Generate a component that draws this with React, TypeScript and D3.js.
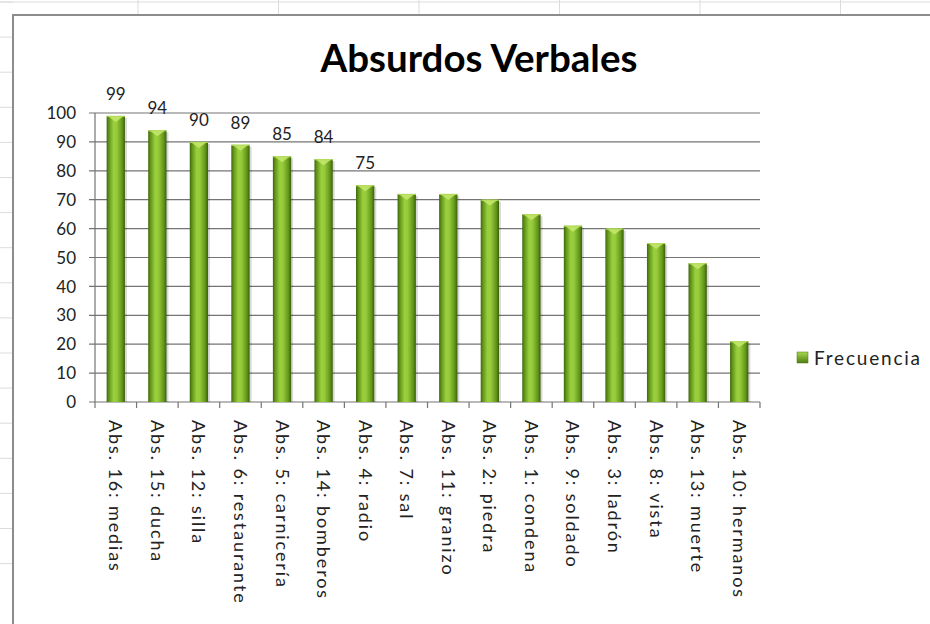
import React from "react";
import * as d3 from "d3";

const categories = [
  "Abs. 16: medias",
  "Abs. 15: ducha",
  "Abs. 12: silla",
  "Abs. 6: restaurante",
  "Abs. 5: carnicería",
  "Abs. 14: bomberos",
  "Abs. 4: radio",
  "Abs. 7: sal",
  "Abs. 11: granizo",
  "Abs. 2: piedra",
  "Abs. 1: condena",
  "Abs. 9: soldado",
  "Abs. 3: ladrón",
  "Abs. 8: vista",
  "Abs. 13: muerte",
  "Abs. 10: hermanos",
];
const values = [99, 94, 90, 89, 85, 84, 75, 72, 72, 70, 65, 61, 60, 55, 48, 21];
const labelled = [true, true, true, true, true, true, true, false, false, false, false, false, false, false, false, false];
const yTicks = [0, 10, 20, 30, 40, 50, 60, 70, 80, 90, 100];
const title = "Absurdos Verbales";
const seriesName = "Frecuencia";

const W = 930;
const H = 624;
const FONT = "Lato, 'Open Sans', sans-serif";

export default function App() {
  const x = d3.scaleBand<string>().domain(categories).range([95, 760]).paddingInner(0.56).paddingOuter(0.28);
  const y = d3.scaleLinear().domain([0, 100]).range([402, 113]);
  const band = (760 - 95) / categories.length;
  const bounds = d3.range(categories.length + 1).map((i) => 95 + i * band);

  const rowLines = d3.range(0, 17).map((i) => 2 + i * 35.1);
  const colLines = d3.range(0, 7).map((i) => 138 + i * 140.5);

  return (
    <div style={{ position: "absolute", left: 0, top: 0 }}>
      <svg width={W} height={H} style={{ display: "block" }}>
        <defs>
          <linearGradient id="barGrad" x1="0" x2="1" y1="0" y2="0">
            <stop offset="0%" stopColor="#3f650b" />
            <stop offset="12%" stopColor="#619318" />
            <stop offset="38%" stopColor="#9ad03e" />
            <stop offset="55%" stopColor="#95cb3a" />
            <stop offset="85%" stopColor="#62951a" />
            <stop offset="100%" stopColor="#3a5e0a" />
          </linearGradient>
          <linearGradient id="legGrad" x1="0" x2="0" y1="0" y2="1">
            <stop offset="0%" stopColor="#a8d84c" />
            <stop offset="100%" stopColor="#4f7d12" />
          </linearGradient>
        </defs>
        <rect x={0} y={0} width={W} height={H} fill="#ffffff" />
        {/* spreadsheet grid behind the chart */}
        {rowLines.map((ry, i) => (
          <line key={"r" + i} x1={0} x2={13} y1={ry} y2={ry} stroke="#dadcdd" strokeWidth={1} />
        ))}
        <line x1={0} x2={W} y1={2} y2={2} stroke="#dadcdd" strokeWidth={1} />
        {colLines.map((cx, i) => (
          <line key={"c" + i} x1={cx} x2={cx} y1={0} y2={15} stroke="#dadcdd" strokeWidth={1} />
        ))}
        {/* chart area */}
        <rect x={13} y={15} width={W} height={H} fill="#ffffff" stroke="#8c8c8c" strokeWidth={2} />

        <text x={479} y={72} textAnchor="middle" fontFamily={FONT} fontWeight={700} fontSize={38.5} fill="#000">
          {title}
        </text>

        {/* gridlines */}
        {yTicks.filter((t) => t > 0).map((t) => (
          <line key={"g" + t} x1={89} x2={760} y1={y(t)} y2={y(t)} stroke="#747474" strokeWidth={1.2} />
        ))}
        {/* y axis */}
        <line x1={95} x2={95} y1={y(100)} y2={y(0)} stroke="#747474" strokeWidth={1.2} />
        <line x1={89} x2={760} y1={y(0)} y2={y(0)} stroke="#747474" strokeWidth={1.2} />
        {bounds.map((bx, i) => (
          <line key={"t" + i} x1={bx} x2={bx} y1={y(0)} y2={y(0) + 6} stroke="#747474" strokeWidth={1.2} />
        ))}
        {yTicks.map((t) => (
          <text key={"yl" + t} x={76} y={y(t)} dy="0.36em" textAnchor="end" fontFamily={FONT} fontSize={17} fill="#222">
            {t}
          </text>
        ))}

        {/* bars */}
        {categories.map((c, i) => {
          const bx = x(c)!;
          const bw = x.bandwidth();
          const top = y(values[i]);
          const bottom = y(0);
          return (
            <g key={"b" + i}>
              <rect x={bx + 2} y={top + 2} width={bw} height={bottom - top - 2} fill="#000" opacity={0.15} />
              <rect x={bx} y={top} width={bw} height={bottom - top} fill="url(#barGrad)" />
              <polygon
                points={`${bx + 1},${top} ${bx + bw - 1},${top} ${bx + bw * 0.5},${top + 6}`}
                fill="#c6e86e"
                opacity={0.85}
              />
              <line x1={bx} x2={bx + bw} y1={top + 0.5} y2={top + 0.5} stroke="#b3dc58" strokeWidth={1} />
            </g>
          );
        })}

        {/* data labels */}
        {categories.map((c, i) =>
          labelled[i] ? (
            <text
              key={"dl" + i}
              x={x(c)! + x.bandwidth() / 2}
              y={y(values[i]) - 16}
              textAnchor="middle"
              fontFamily={FONT}
              fontSize={17}
              fill="#222"
            >
              {values[i]}
            </text>
          ) : null
        )}

        {/* x labels */}
        {categories.map((c, i) => (
          <text
            key={"xl" + i}
            transform={`translate(${x(c)! + x.bandwidth() / 2},420) rotate(90)`}
            dy="0.36em"
            textAnchor="start"
            fontFamily={FONT}
            fontSize={18}
            letterSpacing={1.9}
            fill="#222"
          >
            {c}
          </text>
        ))}

        {/* legend */}
        <rect x={797} y={352} width={11} height={11} fill="url(#legGrad)" stroke="#4a7410" strokeWidth={0.5} />
        <text x={814} y={358} dy="0.36em" fontFamily={FONT} fontSize={19} letterSpacing={1.8} fill="#222">
          {seriesName}
        </text>
      </svg>
    </div>
  );
}
